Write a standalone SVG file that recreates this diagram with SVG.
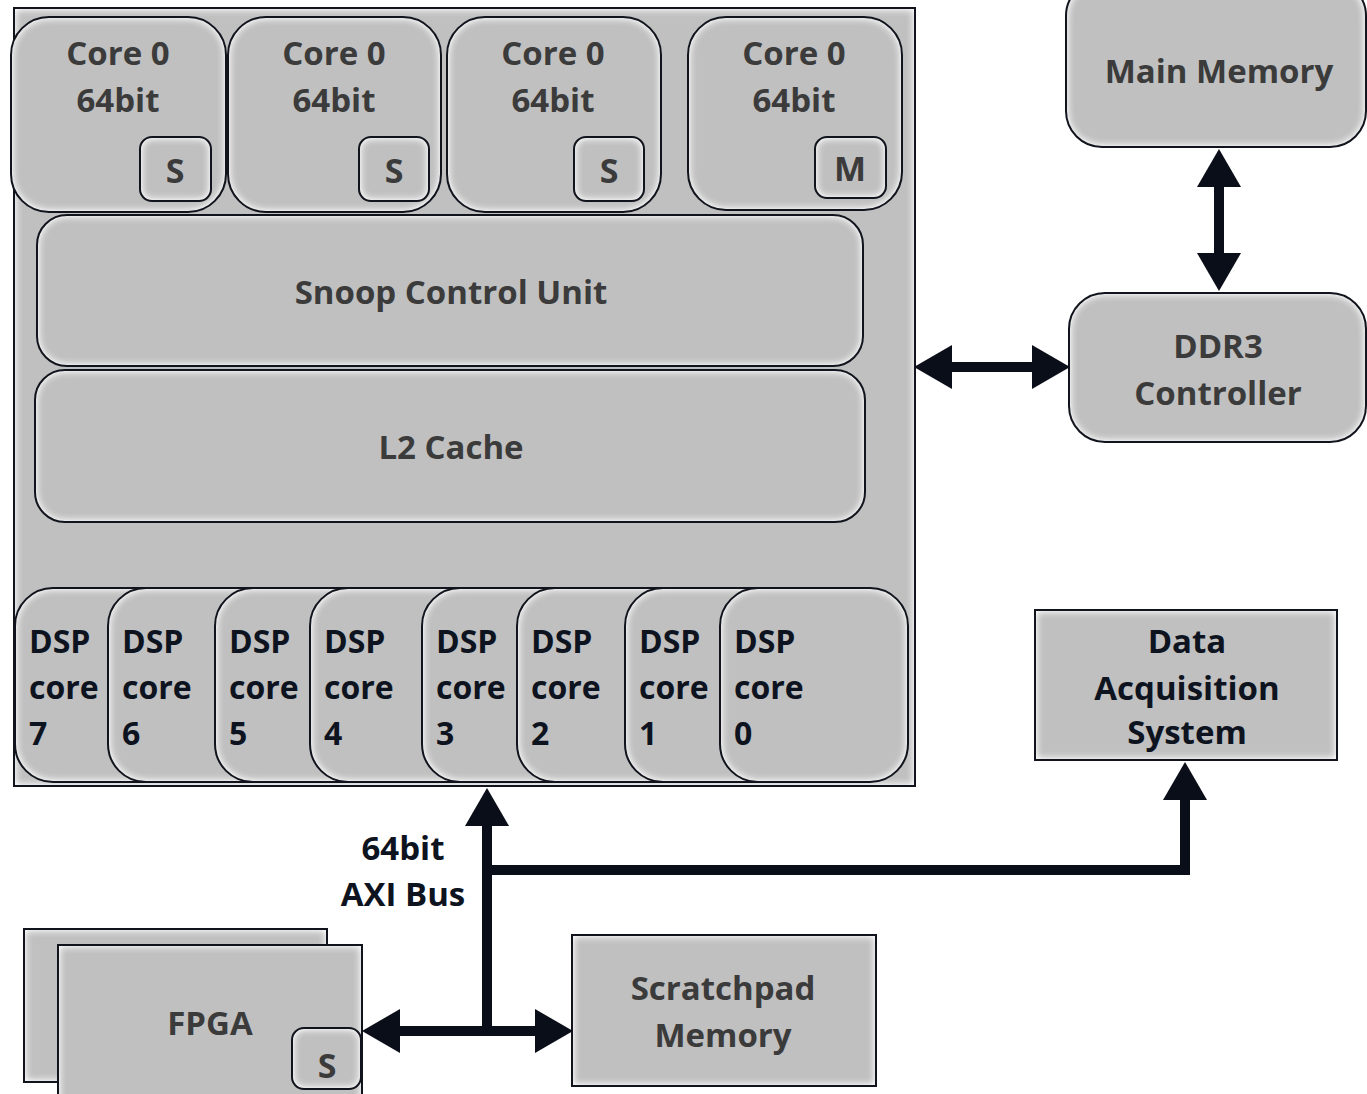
<svg xmlns="http://www.w3.org/2000/svg" width="1367" height="1094" viewBox="0 0 1367 1094">
  <defs>
    <!-- soft light rim on the inside of every box -->
    <filter id="ig" x="-5%" y="-5%" width="110%" height="110%">
      <feGaussianBlur in="SourceAlpha" stdDeviation="4" result="b"/>
      <feComponentTransfer in="b" result="inv">
        <feFuncA type="table" tableValues="1 1 0"/>
      </feComponentTransfer>
      <feFlood flood-color="#f0f0f0" result="w"/>
      <feComposite in="w" in2="inv" operator="in" result="wi"/>
      <feComposite in="wi" in2="SourceAlpha" operator="in" result="edge"/>
      <feMerge>
        <feMergeNode in="SourceGraphic"/>
        <feMergeNode in="edge"/>
      </feMerge>
    </filter>
    <marker id="ah" viewBox="0 0 38 44" refX="2" refY="22" markerWidth="38" markerHeight="44" markerUnits="userSpaceOnUse" orient="auto-start-reverse">
      <path d="M0,0 L38,22 L0,44 Z" fill="#0a0e18"/>
    </marker>
    <style>
      .f{fill:#c0c0c0;filter:url(#ig)}
      .o{fill:none;stroke:#11141c;stroke-width:2}
      .t{font-family:"Open Sans","Noto Sans","DejaVu Sans",sans-serif;font-weight:700;font-size:33px;text-anchor:middle;fill:#3b3b3b}
      .d{fill:#0e1320}
      .l{text-anchor:start;font-size:32px}
      .w{stroke:#0a0e18;stroke-width:10;fill:none;marker-end:url(#ah)}
      .both{marker-start:url(#ah)}
      .s{font-size:34px}
    </style>
  </defs>

  <rect width="1367" height="1094" fill="#ffffff"/>

  <!-- processor package -->
  <g id="soc">
    <rect class="f" x="14" y="8" width="901" height="778"/>
    <rect class="o" x="14" y="8" width="901" height="778"/>
  </g>

  <!-- application cores -->
  <g id="core-a">
    <rect class="f" x="11" y="17" width="215" height="195" rx="38"/>
    <rect class="o" x="11" y="17" width="215" height="195" rx="38"/>
    <text class="t" x="118" y="65">Core 0</text>
    <text class="t" x="118" y="112">64bit</text>
    <rect class="f" x="140" y="137" width="71" height="64" rx="12"/>
    <rect class="o" x="140" y="137" width="71" height="64" rx="12"/>
    <text class="t s" x="175" y="183">S</text>
  </g>
  <g id="core-b">
    <rect class="f" x="228" y="17" width="213" height="195" rx="38"/>
    <rect class="o" x="228" y="17" width="213" height="195" rx="38"/>
    <text class="t" x="334" y="65">Core 0</text>
    <text class="t" x="334" y="112">64bit</text>
    <rect class="f" x="359" y="137" width="70" height="64" rx="12"/>
    <rect class="o" x="359" y="137" width="70" height="64" rx="12"/>
    <text class="t s" x="394" y="183">S</text>
  </g>
  <g id="core-c">
    <rect class="f" x="447" y="17" width="214" height="195" rx="38"/>
    <rect class="o" x="447" y="17" width="214" height="195" rx="38"/>
    <text class="t" x="553" y="65">Core 0</text>
    <text class="t" x="553" y="112">64bit</text>
    <rect class="f" x="574" y="137" width="70" height="64" rx="12"/>
    <rect class="o" x="574" y="137" width="70" height="64" rx="12"/>
    <text class="t s" x="609" y="183">S</text>
  </g>
  <g id="core-d">
    <rect class="f" x="688" y="17" width="214" height="193" rx="38"/>
    <rect class="o" x="688" y="17" width="214" height="193" rx="38"/>
    <text class="t" x="794" y="65">Core 0</text>
    <text class="t" x="794" y="112">64bit</text>
    <rect class="f" x="815" y="137" width="71" height="61" rx="12"/>
    <rect class="o" x="815" y="137" width="71" height="61" rx="12"/>
    <text class="t s" x="850" y="181">M</text>
  </g>

  <g id="scu">
    <rect class="f" x="37" y="215" width="826" height="151" rx="30"/>
    <rect class="o" x="37" y="215" width="826" height="151" rx="30"/>
    <text class="t" x="451" y="304">Snoop Control Unit</text>
  </g>

  <g id="l2">
    <rect class="f" x="35" y="370" width="830" height="152" rx="30"/>
    <rect class="o" x="35" y="370" width="830" height="152" rx="30"/>
    <text class="t" x="451" y="459">L2 Cache</text>
  </g>

  <!-- DSP cores, each one laid over its left neighbour -->
  <g id="dsp7">
    <rect class="f" x="15" y="588" width="190" height="194" rx="38"/>
    <rect class="o" x="15" y="588" width="190" height="194" rx="38"/>
    <text class="t d l"><tspan x="29" y="653">DSP</tspan><tspan x="29" y="699">core</tspan><tspan x="29" y="745">7</tspan></text>
  </g>
  <g id="dsp6">
    <rect class="f" x="108" y="588" width="190" height="194" rx="38"/>
    <rect class="o" x="108" y="588" width="190" height="194" rx="38"/>
    <text class="t d l"><tspan x="122" y="653">DSP</tspan><tspan x="122" y="699">core</tspan><tspan x="122" y="745">6</tspan></text>
  </g>
  <g id="dsp5">
    <rect class="f" x="215" y="588" width="190" height="194" rx="38"/>
    <rect class="o" x="215" y="588" width="190" height="194" rx="38"/>
    <text class="t d l"><tspan x="229" y="653">DSP</tspan><tspan x="229" y="699">core</tspan><tspan x="229" y="745">5</tspan></text>
  </g>
  <g id="dsp4">
    <rect class="f" x="310" y="588" width="190" height="194" rx="38"/>
    <rect class="o" x="310" y="588" width="190" height="194" rx="38"/>
    <text class="t d l"><tspan x="324" y="653">DSP</tspan><tspan x="324" y="699">core</tspan><tspan x="324" y="745">4</tspan></text>
  </g>
  <g id="dsp3">
    <rect class="f" x="422" y="588" width="190" height="194" rx="38"/>
    <rect class="o" x="422" y="588" width="190" height="194" rx="38"/>
    <text class="t d l"><tspan x="436" y="653">DSP</tspan><tspan x="436" y="699">core</tspan><tspan x="436" y="745">3</tspan></text>
  </g>
  <g id="dsp2">
    <rect class="f" x="517" y="588" width="190" height="194" rx="38"/>
    <rect class="o" x="517" y="588" width="190" height="194" rx="38"/>
    <text class="t d l"><tspan x="531" y="653">DSP</tspan><tspan x="531" y="699">core</tspan><tspan x="531" y="745">2</tspan></text>
  </g>
  <g id="dsp1">
    <rect class="f" x="625" y="588" width="190" height="194" rx="38"/>
    <rect class="o" x="625" y="588" width="190" height="194" rx="38"/>
    <text class="t d l"><tspan x="639" y="653">DSP</tspan><tspan x="639" y="699">core</tspan><tspan x="639" y="745">1</tspan></text>
  </g>
  <g id="dsp0">
    <rect class="f" x="720" y="588" width="188" height="194" rx="38"/>
    <rect class="o" x="720" y="588" width="188" height="194" rx="38"/>
    <text class="t d l"><tspan x="734" y="653">DSP</tspan><tspan x="734" y="699">core</tspan><tspan x="734" y="745">0</tspan></text>
  </g>

  <!-- external blocks -->
  <g id="main-memory">
    <rect class="f" x="1066" y="-20" width="300" height="167" rx="36"/>
    <rect class="o" x="1066" y="-20" width="300" height="167" rx="36"/>
    <text class="t" x="1219" y="83">Main Memory</text>
  </g>

  <g id="ddr3">
    <rect class="f" x="1069" y="293" width="297" height="149" rx="36"/>
    <rect class="o" x="1069" y="293" width="297" height="149" rx="36"/>
    <text class="t" x="1218" y="358">DDR3</text>
    <text class="t" x="1218" y="405">Controller</text>
  </g>

  <g id="daq">
    <rect class="f" x="1035" y="610" width="302" height="150"/>
    <rect class="o" x="1035" y="610" width="302" height="150"/>
    <text class="t d" x="1187" y="653">Data</text>
    <text class="t d" x="1187" y="700">Acquisition</text>
    <text class="t d" x="1187" y="744">System</text>
  </g>

  <g id="fpga">
    <rect class="f" x="24" y="929" width="303" height="153"/>
    <rect class="o" x="24" y="929" width="303" height="153"/>
    <rect class="f" x="58" y="945" width="304" height="170"/>
    <rect class="o" x="58" y="945" width="304" height="170"/>
    <text class="t" x="210" y="1035">FPGA</text>
    <rect class="f" x="292" y="1028" width="69" height="61" rx="12"/>
    <rect class="o" x="292" y="1028" width="69" height="61" rx="12"/>
    <text class="t s" x="327" y="1078">S</text>
  </g>

  <g id="scratchpad">
    <rect class="f" x="572" y="935" width="304" height="151"/>
    <rect class="o" x="572" y="935" width="304" height="151"/>
    <text class="t" x="723" y="1000">Scratchpad</text>
    <text class="t" x="723" y="1047">Memory</text>
  </g>

  <text class="t d" x="403" y="860">64bit</text>
  <text class="t d" x="403" y="906">AXI Bus</text>

  <!-- links -->
  <g id="connectors">
    <path class="w both" d="M1219,185 V255"/>
    <path class="w both" d="M950,367 H1034"/>
    <path class="w" d="M487,1031 V824"/>
    <path class="w" d="M487,870 H1185 V798"/>
    <path class="w both" d="M398,1031 H537"/>
  </g>
</svg>
